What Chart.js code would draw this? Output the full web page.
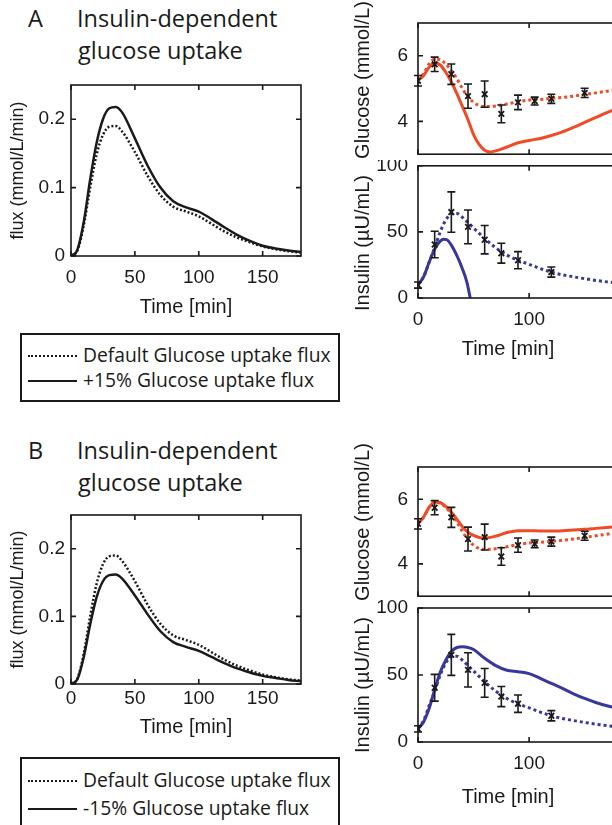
<!DOCTYPE html>
<html>
<head>
<meta charset="utf-8">
<script src="https://cdn.jsdelivr.net/npm/chart.js@4"></script>
<style>
  body { margin: 0; width: 612px; height: 825px; overflow: hidden; position: relative; background: #fff; font-family: 'Liberation Sans', Arial, sans-serif; color: #1a1a1a; }
  canvas { position: absolute; }
  .t { position: absolute; font-family: 'Open Sans', sans-serif; font-size: 23.5px; line-height: 1; white-space: nowrap; }
  .lab { position: absolute; font-size: 20px; line-height: 1; white-space: nowrap; transform: translate(-50%, -50%); }
  .rot { transform: translate(-50%, -50%) rotate(-90deg); }
  .legend { position: absolute; left: 20px; width: 320px; box-sizing: border-box; border: 2px solid #1a1a1a; }
  .lt { position: absolute; left: 61px; font-family: 'Open Sans', sans-serif; font-size: 19.3px; line-height: 1; white-space: nowrap; }
  .ls { position: absolute; left: 6px; width: 49px; height: 0; }
</style>
</head>
<body>
<div class="t" style="left:28px;top:7px">A</div>
<div class="t" style="left:77px;top:7px">Insulin-dependent</div>
<div class="t" style="left:78px;top:39px">glucose uptake</div>
<div class="t" style="left:28px;top:439px">B</div>
<div class="t" style="left:77px;top:439px">Insulin-dependent</div>
<div class="t" style="left:78px;top:471px">glucose uptake</div>

<canvas id="fluxA" width="310" height="263" style="left:0;top:60px"></canvas>
<canvas id="gluA" width="290" height="160" style="left:340px;top:0"></canvas>
<canvas id="insA" width="290" height="178" style="left:340px;top:160px"></canvas>
<canvas id="fluxB" width="310" height="253" style="left:0;top:490px"></canvas>
<canvas id="gluB" width="290" height="162" style="left:340px;top:440px"></canvas>
<canvas id="insB" width="290" height="182" style="left:340px;top:600px"></canvas>

<div class="lab rot" style="left:362px;top:80px">Glucose (mmol/L)</div>
<div class="lab rot" style="left:362px;top:243px">Insulin (µU/mL)</div>
<div class="lab" style="left:508px;top:348px">Time [min]</div>
<div class="lab rot" style="left:362px;top:522px">Glucose (mmol/L)</div>
<div class="lab rot" style="left:362px;top:685px">Insulin (µU/mL)</div>
<div class="lab" style="left:508px;top:796px">Time [min]</div>

<div class="legend" style="top:333px;height:69px">
  <div class="ls" style="top:20px;border-top:2.5px dotted #1a1a1a"></div>
  <div class="lt" style="top:10px">Default Glucose uptake flux</div>
  <div class="ls" style="top:45px;border-top:2.5px solid #1a1a1a"></div>
  <div class="lt" style="top:35px">+15% Glucose uptake flux</div>
</div>
<div class="legend" style="top:757px;height:80px">
  <div class="ls" style="top:21px;border-top:2.5px dotted #1a1a1a"></div>
  <div class="lt" style="top:11px">Default Glucose uptake flux</div>
  <div class="ls" style="top:49px;border-top:2.5px solid #1a1a1a"></div>
  <div class="lt" style="top:39px">-15% Glucose uptake flux</div>
</div>

<script>
// flux of insulin-dependent glucose uptake
const fluxTime = [0, 5, 10, 15, 20, 25, 30, 35, 40, 50, 60, 70, 80, 90, 100, 110, 120, 130, 140, 150, 160, 170, 180];
const fluxDefault = [0, 0.008, 0.045, 0.10, 0.148, 0.177, 0.189, 0.19, 0.182, 0.152, 0.117, 0.089, 0.072, 0.065, 0.058, 0.047, 0.036, 0.027, 0.020, 0.014, 0.010, 0.007, 0.005];
const fluxPlus15 = [0, 0.009, 0.05, 0.112, 0.165, 0.2, 0.216, 0.218, 0.21, 0.172, 0.132, 0.100, 0.080, 0.071, 0.065, 0.054, 0.042, 0.031, 0.022, 0.015, 0.011, 0.008, 0.006];
const fluxMinus15 = [0, 0.007, 0.04, 0.088, 0.128, 0.152, 0.161, 0.162, 0.156, 0.131, 0.103, 0.078, 0.062, 0.055, 0.049, 0.040, 0.031, 0.023, 0.017, 0.012, 0.009, 0.006, 0.004];

// glucose model curves
const glucoseTime = [0, 5, 10, 15, 20, 25, 30, 35, 40, 45, 50, 55, 60, 70, 80, 90, 100, 110, 120, 130, 140, 150, 160, 170, 180];
const glucoseDefault = [5.25, 5.45, 5.75, 5.9, 5.88, 5.75, 5.55, 5.3, 5.0, 4.75, 4.58, 4.48, 4.45, 4.47, 4.53, 4.6, 4.65, 4.67, 4.7, 4.73, 4.77, 4.82, 4.87, 4.92, 4.97];
const glucoseMinus15 = [5.25, 5.45, 5.75, 5.92, 5.9, 5.78, 5.6, 5.38, 5.15, 4.98, 4.88, 4.82, 4.8, 4.86, 4.97, 5.03, 5.03, 5.02, 5.02, 5.03, 5.05, 5.07, 5.1, 5.13, 5.16];
const glucosePlus15Time = [0, 5, 10, 15, 20, 25, 30, 35, 40, 45, 50, 55, 60, 65, 70, 80, 90, 100, 110, 120, 130, 140, 150, 160, 170, 180];
const glucosePlus15 = [5.25, 5.4, 5.65, 5.78, 5.72, 5.5, 5.2, 4.85, 4.45, 4.05, 3.6, 3.3, 3.12, 3.07, 3.1, 3.22, 3.35, 3.42, 3.48, 3.57, 3.68, 3.82, 3.97, 4.12, 4.27, 4.4];

// insulin model curves
const insulinTime = [0, 5, 10, 15, 20, 25, 30, 35, 40, 45, 50, 60, 70, 80, 90, 100, 110, 120, 130, 140, 150, 160, 170, 180];
const insulinDefault = [10, 16, 27, 38, 50, 59, 63.5, 64, 61, 57, 53, 45, 38, 32.5, 28.5, 25.5, 22.3, 19.6, 17.5, 16, 14.6, 13.3, 12.2, 11.2];
const insulinMinus15 = [10, 15, 25, 39, 52, 61, 67.5, 70.5, 71, 70.5, 69, 62.5, 57, 53.5, 52.5, 51, 47.5, 43.7, 40, 36, 32.5, 29.5, 27, 25];
const insulinPlus15Time = [0, 5, 10, 15, 20, 23, 26, 30, 35, 40, 44, 47];
const insulinPlus15 = [10, 16, 27, 37, 43, 44.5, 44, 40, 32, 22, 12, 0];

// measurements (mean +- error)
const glucoseMeasTime = [0, 15, 30, 45, 60, 75, 90, 105, 120, 150];
const glucoseMeas = [5.24, 5.74, 5.44, 4.77, 4.83, 4.23, 4.58, 4.62, 4.69, 4.87];
const glucoseErr = [0.16, 0.22, 0.31, 0.37, 0.4, 0.27, 0.22, 0.12, 0.14, 0.14];
const insulinMeasTime = [0, 15, 30, 45, 60, 75, 90, 120];
const insulinMeas = [9.8, 40.5, 65, 53.8, 44.1, 33.9, 28.6, 19.6];
const insulinErr = [2.3, 10, 15.3, 12.8, 10.7, 7.5, 6.5, 3.8];

const RED = '#f04a26';
const BLUE = '#38389c';
const INK = '#1a1a1a';

Chart.defaults.font.family = "'Liberation Sans', Arial, sans-serif";
Chart.defaults.color = INK;

const pts = (xs, ys) => xs.map((x, i) => ({ x: x, y: ys[i] }));

// box around the axes with inward ticks, like the original plots
const framePlugin = {
    id: 'frame',
    afterDraw(chart) {
        const { ctx, chartArea: a, scales: { x, y } } = chart;
        ctx.save();
        ctx.strokeStyle = INK;
        ctx.lineWidth = 1.6;
        ctx.strokeRect(a.left, a.top, a.right - a.left, a.bottom - a.top);
        ctx.beginPath();
        x.ticks.forEach(t => {
            const p = x.getPixelForValue(t.value);
            ctx.moveTo(p, a.bottom); ctx.lineTo(p, a.bottom - 5);
            ctx.moveTo(p, a.top); ctx.lineTo(p, a.top + 5);
        });
        y.ticks.forEach(t => {
            const p = y.getPixelForValue(t.value);
            ctx.moveTo(a.left, p); ctx.lineTo(a.left + 5, p);
            ctx.moveTo(a.right, p); ctx.lineTo(a.right - 5, p);
        });
        ctx.stroke();
        ctx.restore();
    }
};

const errorBarPlugin = {
    id: 'errorBars',
    afterDatasetsDraw(chart) {
        const { ctx, scales: { x, y } } = chart;
        chart.data.datasets.forEach(ds => {
            if (!ds.errors) return;
            ctx.save();
            ctx.strokeStyle = INK;
            ctx.lineWidth = 1.6;
            ds.data.forEach((p, i) => {
                const px = x.getPixelForValue(p.x);
                const top = y.getPixelForValue(p.y + ds.errors[i]);
                const bot = y.getPixelForValue(p.y - ds.errors[i]);
                ctx.beginPath();
                ctx.moveTo(px, top); ctx.lineTo(px, bot);
                ctx.moveTo(px - 4, top); ctx.lineTo(px + 4, top);
                ctx.moveTo(px - 4, bot); ctx.lineTo(px + 4, bot);
                ctx.stroke();
            });
            ctx.restore();
        });
    }
};

function line(data, color, width, dash) {
    return {
        data: data,
        borderColor: color,
        borderWidth: width,
        borderDash: dash || [],
        pointRadius: 0,
        fill: false,
        cubicInterpolationMode: 'monotone'
    };
}

function measured(data, errors) {
    return {
        data: data,
        errors: errors,
        showLine: false,
        pointStyle: 'crossRot',
        pointRadius: 4,
        borderColor: INK,
        borderWidth: 1.8
    };
}

// fixed axis sizes so the plot boxes land where the originals are
function noPad(s) {
    s.paddingTop = 0; s.paddingBottom = 0; s.paddingLeft = 0; s.paddingRight = 0;
}

function makeChart(id, datasets, o) {
    return new Chart(document.getElementById(id), {
        type: 'line',
        data: { datasets: datasets },
        plugins: [framePlugin, errorBarPlugin],
        options: {
            responsive: false,
            animation: false,
            events: [],
            layout: { padding: { top: o.padTop, right: o.padRight, bottom: o.padBottom || 0, left: 0 } },
            plugins: { legend: { display: false }, tooltip: { enabled: false } },
            scales: {
                x: {
                    type: 'linear', min: 0, max: 180,
                    grid: { display: false, drawTicks: false },
                    border: { display: false },
                    afterBuildTicks: s => { s.ticks = o.xTicks.map(v => ({ value: v })); },
                    afterFit: s => { s.height = o.xH; noPad(s); },
                    ticks: { display: o.xLabels, padding: o.xPad || 0, font: { size: 19 }, maxRotation: 0, autoSkip: false },
                    title: { display: !!o.xTitle, text: o.xTitle, font: { size: 20 }, padding: { top: 0, bottom: 4 } }
                },
                y: {
                    type: 'linear', min: o.yMin, max: o.yMax,
                    grid: { display: false, drawTicks: false },
                    border: { display: false },
                    afterBuildTicks: s => { s.ticks = o.yTicks.map(v => ({ value: v })); },
                    afterFit: s => { s.width = o.yW; noPad(s); },
                    ticks: { padding: o.yPad, font: { size: 19 } },
                    title: { display: !!o.yTitle, text: o.yTitle, font: { size: 18 }, padding: { top: 7, bottom: 0 } }
                }
            }
        }
    });
}

const fluxOpts = { padRight: 9, yW: 71, yPad: 6, yMin: 0, yMax: 0.25, yTicks: [0, 0.1, 0.2], xTicks: [0, 50, 100, 150], xLabels: true, xTitle: 'Time [min]', yTitle: 'flux (mmol/L/min)' };
const gluOpts = { padRight: 12, padBottom: 3, yW: 78, yPad: 10, yMin: 3, yMax: 7, yTicks: [4, 6], xTicks: [0, 100], xLabels: false, xH: 0 };
const insOpts = { padRight: 12, yW: 78, yPad: 10, yMin: 0, yMax: 100, yTicks: [0, 50, 100], xTicks: [0, 100], xLabels: true, xPad: 10, xH: 40 };

makeChart('fluxA', [
    line(pts(fluxTime, fluxPlus15), INK, 2.5),
    line(pts(fluxTime, fluxDefault), INK, 2.5, [2, 2])
], Object.assign({}, fluxOpts, { padTop: 25, xH: 67, xPad: 10 }));

makeChart('fluxB', [
    line(pts(fluxTime, fluxMinus15), INK, 2.5),
    line(pts(fluxTime, fluxDefault), INK, 2.5, [2, 2])
], Object.assign({}, fluxOpts, { padTop: 25, xH: 59, xPad: 3 }));

makeChart('gluA', [
    measured(pts(glucoseMeasTime, glucoseMeas), glucoseErr),
    line(pts(glucosePlus15Time, glucosePlus15), RED, 3),
    line(pts(glucoseTime, glucoseDefault), RED, 3, [3, 3])
], Object.assign({}, gluOpts, { padTop: 23 }));

makeChart('gluB', [
    measured(pts(glucoseMeasTime, glucoseMeas), glucoseErr),
    line(pts(glucoseTime, glucoseMinus15), RED, 3),
    line(pts(glucoseTime, glucoseDefault), RED, 3, [3, 3])
], Object.assign({}, gluOpts, { padTop: 27 }));

makeChart('insA', [
    measured(pts(insulinMeasTime, insulinMeas), insulinErr),
    line(pts(insulinPlus15Time, insulinPlus15), BLUE, 3),
    line(pts(insulinTime, insulinDefault), BLUE, 3, [3, 3])
], Object.assign({}, insOpts, { padTop: 5 }));

makeChart('insB', [
    measured(pts(insulinMeasTime, insulinMeas), insulinErr),
    line(pts(insulinTime, insulinMinus15), BLUE, 3),
    line(pts(insulinTime, insulinDefault), BLUE, 3, [3, 3])
], Object.assign({}, insOpts, { padTop: 8 }));
</script>
</body>
</html>
